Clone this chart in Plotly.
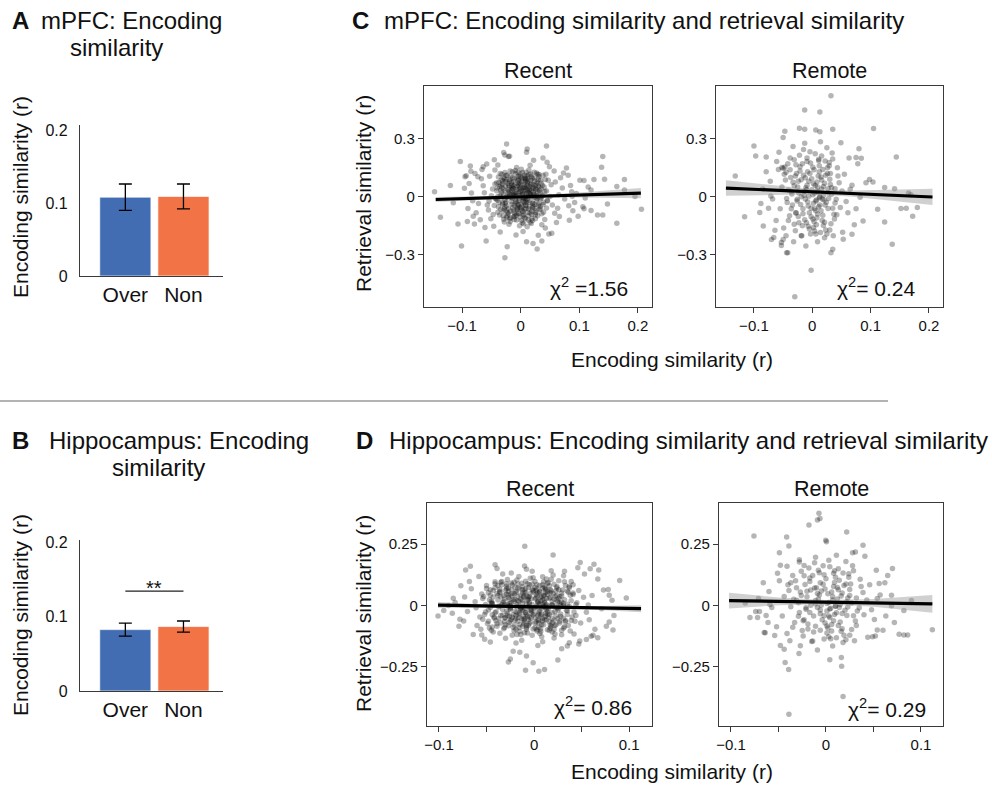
import numpy as np
import plotly.graph_objects as go

W, H = 992, 786
FONT = "Liberation Sans, Arial, Helvetica, sans-serif"

# ---------------- bar data (panels A and B) ----------------
CATEGORIES = ["Over", "Non"]
BAR_COLORS = ["#436DB3", "#F27446"]
A_MEANS = [0.108, 0.109]
A_ERR = [0.018, 0.017]
B_MEANS = [0.0824, 0.0865]
B_ERR = [0.0088, 0.0075]
B_SIG_Y = 0.134

# ---------------- scatter data (panels C and D), (encoding r, retrieval r) ----------------
C_RECENT = [
    (0.002,0.011),(-0.013,0.043),(0.021,-0.032),(-0.027,-0.014),(0.008,0.078),(0.015,0.026),(-0.006,-0.061),(0.031,0.052),
    (-0.019,0.091),(0.004,-0.097),(0.026,-0.071),(-0.034,0.034),(0.012,-0.018),(-0.009,0.122),(0.037,0.009),(-0.022,-0.082),
    (0.018,0.104),(-0.003,0.058),(0.009,-0.044),(-0.031,0.067),(0.024,0.083),(-0.015,-0.037),(0.001,-0.121),(0.033,-0.049),
    (-0.038,-0.052),(0.014,0.139),(-0.011,0.006),(0.006,0.032),(-0.025,0.112),(0.028,-0.008),(-0.017,-0.108),(0.019,-0.089),
    (-0.004,0.088),(0.011,0.061),(-0.029,0.012),(0.035,0.071),(-0.008,-0.024),(0.003,-0.072),(0.022,0.014),(-0.036,-0.093),
    (0.016,-0.131),(-0.02,0.051),(0.007,0.101),(-0.012,-0.066),(0.029,0.118),(-0.001,0.029),(0.039,-0.028),(-0.024,-0.046),
    (0.013,0.047),(-0.007,0.152),(0.025,-0.113),(-0.033,0.088),(0.005,-0.005),(-0.016,0.074),(0.02,-0.057),(-0.028,-0.129),
    (0.01,0.019),(-0.002,-0.149),(0.032,0.033),(-0.039,0.002),(0.017,0.087),(-0.01,-0.088),(0.027,-0.016),(-0.021,0.026),
    (0.0,0.066),(0.036,-0.087),(-0.014,0.099),(0.008,-0.112),(-0.031,-0.031),(0.023,0.128),(-0.005,-0.042),(0.014,0.002),
    (-0.018,0.134),(0.03,0.091),(-0.026,0.057),(0.004,0.045),(-0.009,-0.013),(0.019,-0.074),(-0.035,0.121),(0.011,-0.154),
    (-0.001,0.106),(0.026,0.041),(-0.023,-0.098),(0.006,-0.029),(0.034,-0.062),(-0.012,0.018),(0.016,0.164),(-0.03,-0.071),
    (0.002,0.081),(-0.017,-0.003),(0.021,0.062),(-0.007,0.039),(0.038,0.112),(-0.04,-0.017),(0.009,0.128),(-0.02,-0.141),
    (0.028,0.004),(-0.004,-0.083),(0.013,-0.097),(-0.032,0.048),(0.001,0.143),(0.024,-0.039),(-0.015,0.061),(0.007,-0.063),
    (-0.026,0.079),(0.018,0.035),(-0.011,-0.117),(0.033,0.021),(-0.002,-0.011),(0.012,0.094),
    (0.005,0.052),(-0.014,-0.054),(0.017,0.009),(-0.006,0.097),(0.025,-0.092),(-0.021,0.038),(0.001,-0.036),(0.011,0.072),
    (-0.028,-0.061),(0.019,-0.003),(-0.003,0.019),(0.03,0.058),(-0.01,-0.099),(0.008,-0.016),(-0.019,0.081),(0.015,-0.051),
    (-0.033,-0.005),(0.023,0.099),(-0.007,0.004),(0.003,-0.133),(-0.024,0.003),(0.031,-0.035),(-0.012,0.057),(0.009,0.041),
    (-0.037,0.075),(0.02,-0.121),(-0.005,0.126),(0.014,0.116),(-0.018,-0.074),(0.027,0.069),(-0.001,-0.055),(0.006,0.017),
    (-0.029,0.101),(0.035,-0.005),(-0.015,0.014),(0.012,-0.079),(-0.004,0.068),(0.021,0.049),(-0.025,-0.025),(0.003,0.093),
    (0.003,-0.004),(-0.008,0.027),(0.014,-0.062),(-0.019,0.014),(0.026,0.036),(-0.031,-0.038),(0.007,0.112),(-0.003,-0.086),
    (0.018,0.071),(-0.024,0.089),(0.033,-0.011),(-0.012,-0.102),(0.009,0.003),(-0.036,0.054),(0.021,-0.048),(-0.001,0.047),
    (0.041,0.028),(-0.016,-0.023),(0.005,-0.138),(-0.027,0.127),(0.012,0.083),(-0.006,-0.065),(0.029,-0.097),(-0.042,-0.011),
    (0.016,0.015),(-0.013,0.079),(0.002,-0.049),(-0.021,-0.087),(0.037,0.061),(-0.004,0.109),(0.024,-0.001),(-0.033,0.022),
    (0.01,-0.029),(-0.009,0.137),(0.031,0.104),(-0.018,-0.127),(0.006,0.063),(-0.029,0.041),(0.019,-0.111),(-0.002,0.009),
    (0.044,-0.057),(-0.038,0.103),(0.013,0.022),(-0.011,-0.041),(0.027,0.124),(-0.025,-0.072),(0.001,0.036),(-0.015,0.049),
    (0.035,0.042),(-0.007,-0.119),(0.016,-0.083),(-0.034,-0.064),(0.008,0.094),(-0.02,0.002),(0.023,0.011),(-0.044,0.067),
    (0.004,-0.076),(-0.01,0.066),(0.039,-0.079),(-0.026,0.031),(0.011,-0.009),(-0.005,0.084),(0.02,0.097),(-0.039,-0.079),
    (0.015,-0.027),(-0.017,0.108),(0.032,-0.064),(-0.001,-0.103),(0.007,0.048),(-0.03,-0.097),(0.025,0.058),(-0.014,-0.006),
    (0.042,0.091),(-0.022,0.069),(0.003,0.127),(-0.008,-0.032),(0.018,-0.137),(-0.035,0.007),(0.012,0.034),(-0.003,-0.018),
    (0.028,0.077),(-0.019,-0.113),(0.009,-0.058),(-0.041,0.032),(0.022,0.044),(-0.011,0.094),(0.001,-0.062),(-0.027,-0.051),
    (0.036,0.003),(-0.006,0.056),(0.017,0.119),(-0.032,0.117),(0.005,-0.091),(-0.016,0.037),(0.03,-0.042),(-0.023,-0.002),
    (0.014,0.056),(-0.002,0.073),(0.04,0.052),(-0.037,-0.028),(0.008,-0.041),(-0.012,-0.078),(0.021,0.024),(-0.028,0.093),
    (0.003,0.021),(-0.005,-0.056),(0.026,-0.082),(-0.02,0.061),(0.011,0.108),(-0.045,-0.044),(0.019,0.003),(-0.009,0.018),
    (0.034,0.086),(-0.024,-0.106),(0.006,-0.005),(-0.014,0.131),(0.029,0.027),(-0.003,0.041),(0.013,-0.119),(-0.031,0.083),
    (0.045,-0.018),(-0.018,0.024),(0.002,0.099),(-0.026,-0.033),(0.017,0.064),(-0.007,-0.094),(0.024,-0.058),(-0.04,0.047),
    (0.009,0.087),(-0.011,0.011),(0.031,0.116),(-0.021,-0.061),(0.004,-0.022),(-0.034,0.061),(0.02,-0.031),(-0.001,0.119),
    (0.015,0.039),(-0.029,-0.115),(0.038,-0.039),(-0.013,0.044),(0.007,-0.107),(-0.023,0.113),(0.027,0.007),(-0.004,-0.039),
    (-0.048,0.041),(0.046,-0.021),(-0.055,-0.067),(0.052,0.063),(-0.062,0.022),(0.058,-0.084),(-0.044,0.139),(0.043,0.118),
    (-0.051,-0.112),(0.049,0.157),(-0.067,0.094),(0.065,0.011),(-0.043,-0.006),(0.041,-0.117),(-0.058,0.171),(0.054,-0.041),
    (-0.072,-0.034),(0.071,0.047),(-0.046,-0.152),(0.047,0.087),(-0.064,0.058),(0.061,-0.132),(-0.053,0.107),(0.044,0.031),
    (-0.076,-0.082),(0.068,0.099),(-0.041,0.073),(0.057,0.134),(-0.069,-0.118),(0.042,-0.161),(-0.05,0.007),(0.063,-0.058),
    (-0.057,-0.042),(0.075,-0.011),(-0.045,0.192),(0.05,0.002),(-0.078,0.121),(0.048,-0.192),(-0.061,-0.158),(0.073,0.124),
    (-0.047,-0.091),(0.045,0.179),(-0.066,0.142),(0.059,0.078),(-0.054,-0.021),(0.066,-0.101),(0.038,0.201),(-0.035,-0.181),
    (0.03,-0.198),(-0.019,0.211),(0.01,0.232),(-0.008,-0.196),(0.022,0.19),(0.004,-0.178),(-0.039,0.165),(0.036,-0.144),
    (-0.024,0.274),(0.044,0.264),(0.011,0.248),(-0.029,0.23),(-0.027,0.217),(-0.021,0.209),(-0.103,0.183),(0.14,0.209),
    (0.138,0.154),(0.177,0.091),(-0.147,0.027),(-0.137,-0.105),(0.206,-0.064),(0.164,-0.136),(-0.101,-0.254),(-0.027,-0.314),
    (-0.059,-0.228),(-0.023,-0.257),(0.028,-0.269),(0.021,-0.24),(0.01,-0.232),(0.036,-0.228),(0.053,-0.188),(-0.107,-0.14),
    (-0.091,-0.127),(-0.079,-0.14),(0.131,-0.093),(0.14,-0.093),(0.106,-0.05),(0.108,-0.061),(0.125,0.09),(0.143,0.092),
    (0.101,0.087),(0.108,0.085),(0.164,0.054),(0.177,0.036),(0.148,-0.036),(0.195,0.002),(0.098,-0.1),(0.087,0.027),
    (0.12,0.036),(-0.085,0.133),(-0.096,0.045),(-0.095,0.104),(-0.093,0.11),(-0.064,0.157),(-0.073,0.105),
    (0.085,0.06),(0.092,-0.028),(0.081,0.112),(0.089,-0.071),(0.095,0.018),(0.11,-0.005),(0.083,-0.12),(0.115,0.052),
    (0.078,0.15),(0.12,-0.07),(0.088,0.004),(0.082,-0.045),
    (-0.084,0.02),(-0.09,-0.06),(-0.082,-0.02),(-0.12,0.06),(-0.088,0.07),(-0.115,-0.03),(-0.081,-0.1),(-0.086,0.16),
]

C_REMOTE = [
    (0.032,0.523),(-0.013,0.45),(0.013,0.44),(-0.022,0.355),(-0.013,0.35),(0.035,0.35),(0.105,0.354),(-0.047,0.34),
    (-0.05,0.307),(0.006,0.346),(0.013,0.338),(-0.1,0.264),(-0.097,0.212),(-0.079,0.207),(0.144,0.207),(0.08,0.25),
    (0.075,0.204),(0.084,0.2),(-0.132,0.109),(-0.116,-0.102),(-0.002,-0.379),(-0.03,-0.516),(0.137,-0.245),(0.18,-0.055),
    (0.172,-0.1),(0.161,-0.058),(0.152,-0.06),(0.165,0.02),(0.169,0.012),(0.124,0.049),(0.141,0.043),(0.124,-0.13),
    (0.112,-0.064),(0.087,-0.124),(0.068,-0.193),(0.053,-0.219),(0.035,-0.27),(0.032,-0.288),(-0.044,-0.288),(-0.042,-0.288),
    (-0.05,-0.22),(-0.053,-0.235),(-0.066,-0.21),(-0.07,-0.22),(-0.084,-0.15),(-0.09,-0.08),(0.098,0.091),(0.092,0.074),
    (0.104,0.077),
    (0.004,0.021),(-0.015,0.112),(0.022,-0.041),(-0.028,-0.083),(0.011,0.187),(-0.007,-0.152),(0.031,0.064),(-0.036,0.029),
    (0.017,-0.121),(-0.021,0.157),(0.002,-0.032),(0.026,0.121),(-0.012,-0.011),(0.008,0.078),(-0.041,-0.121),(0.037,-0.089),
    (-0.004,0.234),(0.014,-0.184),(-0.025,0.051),(0.019,0.009),(-0.031,0.193),(0.006,-0.071),(-0.018,-0.201),(0.029,0.162),
    (-0.009,0.061),(0.041,-0.012),(-0.046,0.088),(0.012,0.131),(-0.002,-0.102),(0.023,-0.171),(-0.034,-0.041),(0.016,0.041),
    (-0.013,0.278),(0.035,0.197),(-0.023,-0.133),(0.001,0.154),(-0.038,0.141),(0.027,-0.059),(-0.006,0.004),(0.009,-0.231),
    (-0.019,0.089),(0.044,0.109),(-0.029,-0.174),(0.013,0.001),(-0.001,0.094),(0.032,-0.138),(-0.044,-0.008),(0.005,0.224),
    (-0.016,-0.061),(0.021,0.071),(-0.011,-0.254),(0.039,0.043),(-0.027,0.121),(0.007,-0.015),(-0.052,0.052),(0.018,-0.094),
    (-0.003,-0.191),(0.025,0.254),(-0.035,0.015),(0.011,-0.051),(-0.022,0.216),(0.048,-0.054),(-0.008,0.131),(0.015,0.103),
    (-0.039,-0.097),(0.033,0.014),(-0.014,0.028),(0.003,-0.128),(-0.026,-0.021),(0.022,0.186),(-0.048,0.118),(0.009,0.052),
    (-0.005,-0.081),(0.036,-0.201),(-0.017,0.172),(0.028,-0.008),(-0.032,-0.231),(0.014,0.286),(-0.01,0.038),(0.043,0.151),
    (-0.055,-0.061),(0.019,-0.148),(0.001,0.011),(-0.024,0.081),(0.03,0.092),(-0.042,0.172),(0.008,-0.108),(-0.013,-0.118),
    (0.024,-0.027),(-0.003,0.176),(0.051,0.031),(-0.031,0.058),(0.016,0.212),(-0.02,-0.039),(0.006,-0.191),(-0.037,0.101),
    (0.038,-0.114),(-0.007,-0.047),(0.012,0.162),(-0.049,-0.161),(0.027,0.043),(-0.015,0.245),(0.004,-0.061),(0.034,0.228),
    (-0.028,-0.081),(0.017,-0.011),(-0.058,0.142),(0.046,0.074),(-0.009,0.201),(0.002,-0.158),(-0.045,-0.201),(0.021,-0.211),
    (-0.019,0.001),(0.01,0.108),(-0.033,0.261),(0.03,-0.171),(-0.062,-0.121),(0.055,0.118),(-0.072,0.081),(0.061,-0.081),
    (-0.068,-0.011),(0.065,0.04),(-0.079,0.131),(0.072,-0.143),(-0.085,0.041),(0.078,0.172),(-0.064,-0.172),(0.058,-0.024),
    (-0.075,-0.058),(0.068,0.061),(-0.057,0.231),(0.052,-0.182),(-0.061,0.184),(0.063,0.201),(-0.053,-0.251),(0.049,0.281),
    (-0.088,-0.034),(0.082,-0.001),(-0.071,0.005),(0.075,-0.061),(-0.052,0.152),(-0.047,0.155),(-0.05,0.148),
    (0.006,-0.021),(-0.011,0.048),(0.018,0.142),(-0.024,-0.101),(0.009,-0.088),(-0.004,0.121),(0.027,0.021),(-0.033,0.076),
    (0.013,-0.041),(-0.017,-0.149),(0.002,0.069),(0.035,-0.058),(-0.028,0.167),(0.011,0.195),(-0.008,-0.025),(0.021,-0.131),
    (-0.041,0.036),(0.004,-0.176),(-0.014,0.009),(0.031,0.121),(-0.021,0.135),(0.008,0.031),(-0.002,-0.058),(0.025,-0.192),
    (-0.036,-0.061),(0.016,0.088),(-0.009,0.183),(0.039,-0.031),(-0.026,-0.012),(0.001,-0.114),(0.019,0.054),(-0.045,0.128),
    (0.012,-0.004),(-0.019,-0.201),(0.029,0.178),(-0.006,0.081),(0.007,-0.143),(-0.031,-0.141),(0.023,0.112),(-0.012,0.099),
    (0.003,0.141),(-0.023,0.021),(0.015,-0.071),(-0.038,0.201),(0.042,-0.092),(-0.005,-0.165),(0.01,0.024),(-0.016,-0.087),
    (0.033,0.048),(-0.029,0.109),(0.005,0.059),(-0.01,-0.133),(0.02,-0.016),(-0.043,-0.028),(0.026,0.151),(-0.001,0.038),
]

D_RECENT = [
    (-0.0098,0.241),(0.02,0.205),(-0.067,0.16),(-0.041,0.166),(0.0485,0.175),(0.063,0.168),(0.059,0.15),(0.09,0.102),
    (0.097,0.031),(0.078,0.065),(0.079,0.042),(-0.077,0.08),(-0.101,-0.043),(-0.079,-0.084),(-0.074,-0.063),(0.083,-0.1),
    (0.079,-0.067),(0.067,-0.131),(-0.056,-0.097),(-0.055,-0.12),(-0.009,-0.263),(0.005,-0.267),(0.011,-0.26),(-0.025,-0.217),
    (-0.027,-0.23),(-0.001,-0.233),(0.025,-0.222),(-0.022,-0.186),(-0.015,-0.19),(-0.008,-0.205),(0.035,-0.165),(0.029,-0.176),
    (0.047,-0.156),(0.055,-0.138),(0.06,-0.125),(-0.09,0.0),(-0.085,0.03),(-0.095,-0.02),
    (-0.012,0.021),(0.008,-0.034),(-0.025,-0.011),(0.017,0.052),(-0.004,-0.067),(0.029,0.013),(-0.038,0.041),(0.003,0.084),
    (-0.019,-0.052),(0.022,-0.081),(-0.008,0.006),(0.013,0.029),(-0.031,-0.089),(0.035,-0.022),(-0.001,0.061),(-0.045,0.009),
    (0.026,0.101),(-0.016,0.118),(0.006,-0.114),(-0.027,0.071),(0.041,0.045),(-0.009,-0.029),(0.011,-0.058),(-0.035,-0.041),
    (0.019,0.002),(-0.021,0.048),(0.001,-0.091),(0.033,-0.061),(-0.048,-0.064),(0.009,0.117),(-0.014,-0.009),(0.024,0.077),
    (-0.005,0.037),(-0.041,0.097),(0.038,-0.104),(-0.023,-0.121),(0.015,-0.014),(-0.002,0.139),(0.045,0.011),(-0.032,0.017),
    (0.004,-0.042),(-0.017,0.088),(0.028,-0.045),(-0.054,0.029),(0.012,0.064),(-0.011,-0.075),(0.031,0.121),(-0.029,-0.023),
    (0.007,0.019),(-0.043,-0.108),(0.021,-0.132),(-0.006,-0.004),(0.049,-0.071),(-0.024,0.132),(0.014,0.091),(-0.036,0.058),
    (0.002,0.031),(-0.013,-0.141),(0.027,0.036),(-0.051,-0.026),(0.037,0.078),(-0.018,0.004),(0.005,-0.071),(-0.028,0.106),
    (0.044,-0.041),(-0.007,-0.112),(0.018,0.141),(-0.039,-0.074),(0.01,-0.003),(-0.022,-0.037),(0.032,-0.086),(-0.046,0.064),
    (0.023,0.059),(-0.003,-0.051),(-0.033,0.128),(0.016,-0.101),(-0.015,0.067),(0.039,0.098),(-0.057,-0.047),(0.004,0.009),
    (-0.026,-0.068),(0.029,-0.119),(-0.009,0.099),(0.052,0.034),(-0.02,0.026),(0.011,0.042),(-0.044,0.011),(0.019,-0.054),
    (-0.001,0.113),(0.035,0.005),(-0.03,-0.133),(0.008,-0.127),(-0.012,0.051),(0.025,0.015),(-0.05,0.081),(0.042,-0.116),
    (-0.016,-0.089),(0.001,0.074),(-0.037,-0.002),(0.022,-0.024),(-0.006,0.026),(0.013,0.108),(-0.027,0.044),(0.047,0.061),
    (-0.06,-0.081),(0.031,-0.002),(-0.019,-0.152),(0.006,0.054),(-0.034,0.084),(0.017,-0.079),(-0.003,-0.021),(0.055,-0.027),
    (-0.024,0.092),(0.009,-0.147),(-0.042,-0.051),(0.036,0.054),(-0.01,-0.054),(0.02,0.124),(-0.055,0.047),(0.027,-0.064),
    (-0.008,0.148),(0.014,-0.036),(-0.031,0.003),(0.041,0.084),(-0.017,0.019),(0.003,-0.098),(-0.047,-0.091),(0.024,0.021),
    (-0.014,-0.118),(0.032,0.139),(-0.062,0.015),(0.058,-0.058),(-0.066,0.068),(0.061,0.041),(-0.07,-0.024),(0.064,-0.096),
    (-0.058,0.118),(0.067,0.108),(-0.064,-0.118),(0.053,0.128),(-0.073,0.035),(0.071,-0.013),(-0.052,-0.137),(0.048,-0.144),
    (-0.068,0.098),(0.073,0.063),(-0.061,-0.009),(0.057,0.002),(-0.078,-0.056),(0.076,-0.084),(-0.039,0.151),(0.046,0.154),
    (-0.046,-0.148),(0.037,-0.151),(-0.01,0.161),(0.004,-0.163),(0.062,-0.121),(-0.072,0.144),(0.068,0.145),(-0.083,0.012),
    (0.082,0.021),(-0.086,-0.031),(0.084,-0.041),(-0.005,0.012),(0.0,-0.012),(-0.015,-0.03),(0.012,0.0),(-0.02,-0.06),
    (0.016,0.03),(-0.008,-0.08),(-0.025,0.0),(0.005,-0.025),(-0.011,-0.045),(0.009,0.07),(-0.03,-0.05),(0.021,-0.097),
    (-0.004,-0.018),(0.011,0.011),(-0.019,-0.041),(0.021,-0.061),(-0.031,0.027),(0.002,0.046),(-0.012,-0.084),(0.029,0.039),
    (-0.041,-0.029),(0.007,-0.106),(-0.024,0.064),(0.016,-0.002),(-0.007,0.089),(0.035,-0.037),(-0.046,0.042),(0.004,-0.058),
    (-0.016,0.016),(0.024,0.071),(-0.035,-0.071),(0.009,0.023),(-0.002,-0.121),(0.031,-0.091),(-0.027,-0.004),(0.014,0.058),
    (-0.051,0.004),(0.019,-0.029),(-0.009,0.052),(0.039,0.019),(-0.021,-0.103),(0.001,0.098),(-0.038,0.081),(0.026,-0.011),
    (-0.013,-0.054),(0.008,-0.077),(-0.029,0.046),(0.043,-0.064),(-0.005,0.006),(0.017,0.033),(-0.044,-0.087),(0.012,-0.044),
    (-0.018,0.104),(0.033,0.081),(-0.025,-0.062),(0.003,0.067),(-0.011,0.034),(0.022,-0.116),(-0.033,0.011),(0.006,0.005),
    (-0.048,-0.018),(0.028,0.002),(-0.001,-0.038),(-0.023,0.083),(0.015,0.093),(-0.036,-0.113),(0.037,-0.004),(-0.008,-0.097),
    (0.01,0.041),(-0.028,-0.031),(0.02,0.049),(-0.014,-0.012),(0.041,0.051),(-0.043,0.061),(0.005,-0.088),(-0.017,0.071),
    (0.027,-0.071),(-0.003,0.029),(-0.031,-0.051),(0.013,-0.016),(-0.054,-0.056),(0.032,0.024),(-0.01,-0.066),(0.018,0.107),
    (-0.026,0.026),(0.001,-0.008),(-0.039,0.049),(0.023,-0.043),(-0.006,0.072),(0.036,-0.081),(-0.02,-0.023),(0.009,0.084),
    (-0.047,0.024),(0.014,-0.099),(-0.015,-0.077),(0.03,0.063),(-0.034,0.098),(0.004,0.017),(-0.022,-0.088),(0.044,0.004),
    (-0.007,-0.046),(0.019,0.016),(-0.042,-0.047),(0.011,0.074),(-0.012,0.009),(0.025,-0.053),(-0.029,0.069),(0.002,-0.067),
    (-0.053,0.037),(0.034,-0.019),(-0.018,-0.118),(0.007,0.034),(-0.024,0.011),(0.016,-0.066),(-0.004,0.111),(0.038,0.042),
    (-0.037,-0.006),(0.021,0.087),(-0.009,-0.027),(-0.045,-0.101),(0.012,-0.031),(-0.019,0.057),(0.029,-0.101),(-0.001,0.055),
    (-0.03,-0.078),(0.008,-0.011),(-0.014,0.043),(0.04,-0.047),(-0.026,-0.044),(0.017,0.064),(-0.05,0.069),(0.003,-0.104),
    (-0.011,-0.059),(0.026,0.029),(-0.035,0.036),(0.013,0.004),(-0.006,-0.081),(0.032,0.097),(-0.021,0.095),(0.005,-0.035),
    (-0.04,-0.062),(0.022,-0.002),(-0.016,-0.035),(0.01,0.097),(-0.028,0.004),(0.035,0.059),(-0.003,-0.014),(-0.032,-0.094),
    (0.018,-0.083),(-0.008,0.039),(0.042,-0.026),(-0.044,0.007),(0.006,0.058),(-0.015,-0.105),(0.024,0.041),(-0.023,0.039),
    (0.001,-0.051),(-0.036,0.066),(0.015,-0.047),(-0.012,0.077),(0.028,-0.034),(-0.049,-0.073),(0.009,-0.062),(-0.025,-0.016),
    (0.037,0.072),(-0.005,0.084),(0.019,-0.108),(-0.033,-0.039),(0.003,0.039),(-0.018,-0.005),(0.031,0.008),(-0.041,0.089),
    (0.012,0.052),(-0.01,-0.111),(0.023,-0.078),(-0.027,0.057),(0.006,-0.02),(-0.052,-0.036),(0.039,-0.061),(-0.002,0.066),
    (-0.012,-0.021),(0.004,0.014),(-0.027,0.033),(-0.005,-0.047),(0.012,-0.008),(-0.019,0.052),(-0.033,-0.016),(0.008,0.037),
    (-0.009,0.068),(-0.024,-0.057),(0.016,-0.036),(-0.002,0.004),(-0.038,0.022),(0.001,-0.073),(-0.015,-0.004),(0.021,0.026),
    (-0.029,0.078),(-0.007,0.021),(0.009,-0.052),(-0.021,-0.079),(-0.044,-0.038),(0.014,0.046),(-0.011,0.039),(-0.003,-0.031),
    (0.025,-0.018),(-0.036,0.053),(-0.017,-0.064),(0.006,0.081),(-0.026,0.008),(0.018,0.059),(-0.008,-0.089),(-0.041,0.072),
    (0.003,-0.003),(-0.013,0.091),(-0.031,-0.066),(0.011,0.019),(-0.022,0.024),(0.027,0.009),(-0.004,0.049),(-0.018,-0.027),
    (0.007,-0.094),(-0.046,-0.008),(-0.009,-0.011),(0.019,-0.071),(-0.028,-0.042),(0.002,0.061),(-0.035,0.095),(0.013,-0.059),
    (-0.014,0.027),(0.031,-0.052),(-0.024,0.047),(-0.001,-0.095),(-0.039,-0.084),(0.016,0.079),(-0.006,0.033),(-0.019,-0.096),
    (0.022,0.038),(-0.032,0.041),(0.005,-0.061),(-0.012,0.064),(-0.025,-0.009),(0.029,0.051),(-0.043,0.035),(0.001,0.027),
    (-0.016,-0.049),(0.009,0.004),(-0.03,0.061),(-0.005,-0.074),(0.017,-0.091),(-0.021,0.016),(-0.037,-0.053),(0.012,0.069),
    (-0.008,-0.038),(0.024,-0.008),(-0.027,-0.082),(-0.002,0.088),(-0.014,-0.017),(0.007,-0.042),(-0.048,0.052),(0.019,0.003),
    (-0.01,0.058),(-0.023,-0.048),(0.033,-0.066),(-0.034,0.004),(0.004,0.051),(-0.017,0.036),(0.014,-0.024),(-0.04,-0.025),
    (-0.006,-0.058),(0.026,0.064),(-0.029,0.089),(0.0,-0.032),(-0.02,0.074),(0.01,-0.078),(-0.045,0.017),(-0.011,-0.006),
]

D_REMOTE = [
    (-0.0074,0.375),(-0.0063,0.354),(-0.009,0.348),(-0.0179,0.328),(-0.0758,0.283),(-0.0414,0.279),(0.0218,0.299),(-0.039,0.242),
    (-0.0002,0.266),(0.0005,0.259),(0.039,0.245),(-0.049,0.215),(0.07,0.151),(0.062,0.093),(0.056,0.09),(0.069,0.042),
    (0.112,-0.099),(0.077,-0.117),(0.082,-0.12),(0.072,-0.069),(0.054,-0.1),(0.049,-0.127),(0.052,-0.124),(-0.08,-0.049),
    (-0.064,-0.111),(-0.048,-0.163),(-0.043,-0.232),(-0.0393,-0.26),(-0.0284,-0.195),(0.004,-0.221),(0.0162,-0.211),(0.0165,-0.247),
    (0.018,-0.37),(-0.039,-0.442),(-0.07,-0.024),(-0.072,-0.049),(-0.061,-0.069),(0.031,0.218),(0.028,0.215),(-0.041,0.16),
    (-0.028,0.177),(-0.023,0.163),(0.003,0.184),
    (0.003,0.012),(-0.012,0.071),(0.017,-0.032),(-0.024,-0.062),(0.008,0.131),(-0.006,-0.101),(0.025,0.041),(-0.031,0.021),
    (0.013,-0.081),(-0.017,0.112),(0.001,-0.022),(0.021,0.088),(-0.009,-0.008),(0.006,0.055),(-0.035,-0.088),(0.031,-0.063),
    (-0.003,0.162),(0.011,-0.131),(-0.02,0.036),(0.015,0.004),(-0.026,0.139),(0.004,-0.049),(-0.014,-0.144),(0.024,0.115),
    (-0.007,0.043),(0.035,-0.009),(-0.039,0.061),(0.009,0.094),(-0.001,-0.071),(0.019,-0.121),(-0.028,-0.028),(0.012,0.027),
    (-0.011,0.196),(0.029,0.141),(-0.019,-0.095),(0.0,0.109),(-0.032,0.101),(0.022,-0.041),(-0.005,0.001),(0.007,-0.165),
    (-0.016,0.063),(0.037,0.077),(-0.024,-0.124),(0.01,-0.002),(-0.001,0.067),(0.027,-0.098),(-0.037,-0.005),(0.004,0.158),
    (-0.013,-0.043),(0.017,0.051),(-0.009,-0.181),(0.032,0.031),(-0.022,0.086),(0.005,-0.011),(-0.044,0.037),(0.015,-0.067),
    (-0.002,-0.136),(0.021,0.179),(-0.029,0.011),(0.009,-0.036),(-0.018,0.153),(0.04,-0.038),(-0.006,0.093),(0.012,0.073),
    (-0.033,-0.069),(0.027,0.01),(-0.011,0.02),(0.002,-0.091),(-0.021,-0.015),(0.018,0.132),(-0.04,0.084),(0.007,0.037),
    (-0.004,-0.058),(0.03,-0.143),(-0.014,0.122),(0.023,-0.006),(-0.027,-0.164),(0.011,0.204),(-0.008,0.027),(0.036,0.107),
    (-0.046,-0.043),(0.016,-0.105),(0.001,0.008),(-0.02,0.058),(0.025,0.065),(-0.035,0.122),(0.006,-0.077),(-0.011,-0.084),
    (0.02,-0.019),(-0.002,0.125),(0.043,0.022),(-0.026,0.041),(0.013,0.15),(-0.017,-0.028),(0.005,-0.135),(-0.031,0.072),
    (0.032,-0.081),(-0.006,-0.033),(0.01,0.115),(-0.041,-0.114),(0.023,0.031),(-0.012,0.174),(0.003,-0.043),(0.028,0.162),
    (-0.023,-0.058),(0.014,-0.008),(-0.049,0.101),(0.039,0.053),(-0.008,0.143),(0.001,-0.112),(-0.038,-0.143),(0.018,-0.15),
    (-0.016,0.001),(0.008,0.077),(-0.028,0.186),(0.025,-0.121),(-0.052,-0.086),(0.046,0.084),(-0.06,0.057),(0.051,-0.057),
    (-0.057,-0.008),(0.054,0.029),(-0.066,0.093),(0.06,-0.101),(-0.071,0.029),(0.065,0.122),(-0.054,-0.122),(0.048,-0.017),
    (-0.063,-0.041),(0.057,0.043),(-0.048,0.164),(0.044,-0.129),(-0.051,0.131),(0.053,0.143),(-0.044,-0.178),(0.041,0.2),
    (-0.074,-0.024),(0.069,-0.001),(-0.059,0.004),(0.063,-0.043),(0.086,-0.12),(0.09,0.02),(0.082,-0.02),(-0.085,0.01),
    (-0.065,-0.11),
    (0.004,-0.014),(-0.009,0.049),(0.014,0.103),(-0.019,-0.075),(0.008,-0.062),(-0.003,0.087),(0.022,0.015),(-0.027,0.055),
    (0.011,-0.029),(-0.013,-0.108),(0.002,0.048),(0.029,-0.042),(-0.023,0.121),(0.009,0.141),(-0.006,-0.018),(0.017,-0.094),
    (-0.034,0.026),(0.003,-0.127),(-0.011,0.007),(0.026,0.088),(-0.017,0.098),(0.007,0.022),(-0.002,-0.042),(0.021,-0.139),
    (-0.029,-0.044),(0.013,0.064),(-0.007,0.133),(0.033,-0.022),(-0.021,-0.009),(0.001,-0.083),(0.016,0.039),(-0.037,0.093),
    (0.01,-0.003),(-0.015,-0.146),(0.024,0.129),(-0.005,0.059),(0.006,-0.104),(-0.025,-0.102),(0.019,0.081),(-0.01,0.072),
]

# regression fits: end points of the line, and the half-width of the confidence band
C_RECENT_FIT_X = [-0.145, 0.205]
C_RECENT_FIT_Y = [-0.013, 0.020]
C_RECENT_BAND_X = [-0.145, -0.07, 0.0, 0.07, 0.14, 0.205]
C_RECENT_BAND_HW = [0.013, 0.008, 0.006, 0.009, 0.016, 0.026]

C_REMOTE_FIT_X = [-0.148, 0.206]
C_REMOTE_FIT_Y = [0.046, 0.0]
C_REMOTE_BAND_X = [-0.148, -0.07, 0.0, 0.07, 0.14, 0.206]
C_REMOTE_BAND_HW = [0.040, 0.024, 0.013, 0.016, 0.030, 0.042]

D_RECENT_FIT_X = [-0.101, 0.1125]
D_RECENT_FIT_Y = [0.002, -0.013]
D_RECENT_BAND_X = [-0.101, -0.05, 0.0, 0.05, 0.1125]
D_RECENT_BAND_HW = [0.012, 0.006, 0.004, 0.006, 0.014]

D_REMOTE_FIT_X = [-0.102, 0.112]
D_REMOTE_FIT_Y = [0.020, 0.007]
D_REMOTE_BAND_X = [-0.102, -0.05, 0.0, 0.05, 0.112]
D_REMOTE_BAND_HW = [0.032, 0.016, 0.009, 0.016, 0.036]

CHI_TEXT = {"c_recent": "χ<sup>2</sup> =1.56", "c_remote": "χ<sup>2</sup>= 0.24",
            "d_recent": "χ<sup>2</sup>= 0.86", "d_remote": "χ<sup>2</sup>= 0.29"}

C_XTICKS = [-0.1, 0, 0.1, 0.2]
C_XTICKTEXT = ["−0.1", "0", "0.1", "0.2"]
C_YTICKS = [-0.3, 0, 0.3]
C_YTICKTEXT = ["−0.3", "0", "0.3"]
D_XTICKS = [-0.1, 0, 0.1]
D_XTICKTEXT = ["−0.1", "0", "0.1"]
D_XMINOR_STEP = 0.05
D_YTICKS = [-0.25, 0, 0.25]
D_YTICKTEXT = ["−0.25", "0", "0.25"]
BAR_YTICKS = [0, 0.1, 0.2]
BAR_YTICKTEXT = ["0", "0.1", "0.2"]

# ---------------- helpers: page pixel -> paper fraction ----------------
def px(xp):
    return xp / W

def py(yp):
    return 1 - yp / H

AXC = "#3a3a3a"
fig = go.Figure()

def bar_panel(n, means, errs, y_top_px, y_bot_px, yrange):
    fig.add_trace(go.Bar(
        x=CATEGORIES, y=means, width=0.88,
        marker=dict(color=BAR_COLORS, line=dict(color="rgba(255,255,255,0.7)", width=1)),
        error_y=dict(type="data", array=errs, color="black", thickness=1.3, width=6.5),
        xaxis=f"x{n}", yaxis=f"y{n}", hoverinfo="skip"))
    fig.layout[f"xaxis{n}"] = dict(
        domain=[px(80), px(223)], anchor=f"y{n}", type="category", automargin=False,
        categoryorder="array", categoryarray=CATEGORIES, range=[-0.78, 1.68],
        showline=True, linecolor=AXC, linewidth=1.3, ticks="", showgrid=False,
        zeroline=False, tickfont=dict(size=21, color="#111"))
    fig.layout[f"yaxis{n}"] = dict(
        domain=[py(y_bot_px), py(y_top_px)], anchor=f"x{n}", range=yrange, automargin=False,
        showline=True, linecolor=AXC, linewidth=1.3, ticks="", showgrid=False,
        zeroline=False, tickvals=BAR_YTICKS, ticktext=BAR_YTICKTEXT,
        tickfont=dict(size=16, color="#111"), ticklabelstandoff=8)

bar_panel("", A_MEANS, A_ERR, 125, 276, [0, 0.2068])
bar_panel(2, B_MEANS, B_ERR, 540, 691, [0, 0.2027])

# significance bar for panel B
fig.add_trace(go.Scatter(x=CATEGORIES, y=[B_SIG_Y, B_SIG_Y], mode="lines",
                         line=dict(color="#222", width=1.2), xaxis="x2", yaxis="y2",
                         hoverinfo="skip"))

def scatter_panel(n, pts, fit_x, fit_y, band_x, band_hw, xd, yd, xr, yr,
                  xt, xtt, yt, ytt, minor_step=None):
    xs = [p[0] for p in pts]
    ys = [p[1] for p in pts]
    fig.add_trace(go.Scatter(x=xs, y=ys, mode="markers",
                             marker=dict(size=5.5, color="rgba(0,0,0,0.29)", line=dict(width=0)),
                             xaxis=f"x{n}", yaxis=f"y{n}", hoverinfo="skip"))
    bx = np.array(band_x)
    by = np.interp(bx, fit_x, fit_y)
    hw = np.array(band_hw)
    fig.add_trace(go.Scatter(x=list(bx) + list(bx[::-1]),
                             y=list(by + hw) + list((by - hw)[::-1]),
                             mode="lines", fill="toself", fillcolor="rgba(150,150,150,0.45)",
                             line=dict(width=0), xaxis=f"x{n}", yaxis=f"y{n}", hoverinfo="skip"))
    fig.add_trace(go.Scatter(x=fit_x, y=fit_y, mode="lines", line=dict(color="black", width=3.2),
                             xaxis=f"x{n}", yaxis=f"y{n}", hoverinfo="skip"))
    common = dict(showline=True, mirror=True, linecolor=AXC, linewidth=1.3, ticks="outside",
                  ticklen=5, tickwidth=1.2, tickcolor=AXC, showgrid=False, zeroline=False,
                  automargin=False, tickfont=dict(size=15, color="#111"))
    xa = dict(domain=[px(xd[0]), px(xd[1])], anchor=f"y{n}", range=xr,
              tickvals=xt, ticktext=xtt, **common)
    if minor_step:
        xa["minor"] = dict(tick0=0, dtick=minor_step, ticks="outside", ticklen=5,
                           tickwidth=1.2, tickcolor=AXC, showgrid=False)
    fig.layout[f"xaxis{n}"] = xa
    fig.layout[f"yaxis{n}"] = dict(domain=[py(yd[1]), py(yd[0])], anchor=f"x{n}", range=yr,
                                   tickvals=yt, ticktext=ytt, **common)

scatter_panel(3, C_RECENT, C_RECENT_FIT_X, C_RECENT_FIT_Y, C_RECENT_BAND_X, C_RECENT_BAND_HW,
              (424, 652), (86, 307), [-0.165, 0.224], [-0.569, 0.574],
              C_XTICKS, C_XTICKTEXT, C_YTICKS, C_YTICKTEXT)
scatter_panel(4, C_REMOTE, C_REMOTE_FIT_X, C_REMOTE_FIT_Y, C_REMOTE_BAND_X, C_REMOTE_BAND_HW,
              (716, 943), (86, 307), [-0.165, 0.224], [-0.569, 0.574],
              C_XTICKS, C_XTICKTEXT, C_YTICKS, C_YTICKTEXT)
scatter_panel(5, D_RECENT, D_RECENT_FIT_X, D_RECENT_FIT_Y, D_RECENT_BAND_X, D_RECENT_BAND_HW,
              (427, 652), (503, 726), [-0.1126, 0.124], [-0.49, 0.417],
              D_XTICKS, D_XTICKTEXT, D_YTICKS, D_YTICKTEXT, D_XMINOR_STEP)
scatter_panel(6, D_REMOTE, D_REMOTE_FIT_X, D_REMOTE_FIT_Y, D_REMOTE_BAND_X, D_REMOTE_BAND_HW,
              (719, 943), (503, 726), [-0.1126, 0.1232], [-0.49, 0.417],
              D_XTICKS, D_XTICKTEXT, D_YTICKS, D_YTICKTEXT, D_XMINOR_STEP)

# ---------------- annotations ----------------
ann = []

def text(x, y, s, size, xanchor="left", angle=0, bold=False):
    ann.append(dict(x=px(x), y=py(y), xref="paper", yref="paper", text=f"<b>{s}</b>" if bold else s,
                    showarrow=False, xanchor=xanchor, yanchor="middle", textangle=angle,
                    font=dict(size=size, color="#111", family=FONT)))

text(10, 20, "A", 24, bold=True)
text(39, 20, "mPFC: Encoding", 24)
text(68, 47, "similarity", 24)
text(10, 440, "B", 24, bold=True)
text(47, 440, "Hippocampus: Encoding", 24)
text(110, 467, "similarity", 24)
text(350, 20, "C", 24, bold=True)
text(382, 20, "mPFC: Encoding similarity and retrieval similarity", 24)
text(354, 440, "D", 24, bold=True)
text(387, 440, "Hippocampus: Encoding similarity and retrieval similarity", 24)

text(538, 71, "Recent", 21.5, xanchor="center")
text(829.5, 71, "Remote", 21.5, xanchor="center")
text(539.5, 489, "Recent", 21.5, xanchor="center")
text(831, 489, "Remote", 21.5, xanchor="center")

text(589, 287, CHI_TEXT["c_recent"], 21, xanchor="center")
text(876, 287, CHI_TEXT["c_remote"], 21, xanchor="center")
text(593, 706, CHI_TEXT["d_recent"], 21, xanchor="center")
text(887, 708, CHI_TEXT["d_remote"], 21, xanchor="center")

text(672, 359, "Encoding similarity (r)", 21, xanchor="center")
text(672, 771, "Encoding similarity (r)", 21, xanchor="center")
text(363, 194, "Retrieval similarity (r)", 21, xanchor="center", angle=-90)
text(363, 614, "Retrieval similarity (r)", 21, xanchor="center", angle=-90)
text(20, 197, "Encoding similarity (r)", 21, xanchor="center", angle=-90)
text(20, 615, "Encoding similarity (r)", 21, xanchor="center", angle=-90)

ann.append(dict(x=0.5, y=B_SIG_Y, xref="x2", yref="y2", text="**", showarrow=False,
                yanchor="bottom", yshift=-10, font=dict(size=20, color="#111", family=FONT)))

fig.update_layout(
    width=W, height=H, margin=dict(l=0, r=0, t=0, b=0, pad=0, autoexpand=False),
    paper_bgcolor="white", plot_bgcolor="white", showlegend=False,
    font=dict(family=FONT, color="#111"), annotations=ann,
    shapes=[dict(type="line", xref="paper", yref="paper", x0=0, x1=px(888), y0=py(401), y1=py(401),
                 line=dict(color="#9a9a9a", width=1.5))],
)

fig.write_html("out.html", config={"displayModeBar": False},
               post_script="document.body.style.margin='0px';")
